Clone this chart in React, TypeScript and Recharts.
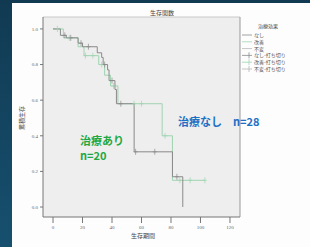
import React from "react";
import {
  ComposedChart,
  Line,
  Scatter,
  XAxis,
  YAxis,
  CartesianGrid,
  ReferenceLine,
} from "recharts";

// 治療なし (n=28)
const noTreatTimes = [0, 5, 9, 17, 20, 30, 33, 34, 37, 38, 42, 43, 55, 81, 88];
const noTreatSurv = [1.0, 0.964, 0.95, 0.92, 0.9, 0.866, 0.84, 0.8, 0.77, 0.71, 0.66, 0.58, 0.31, 0.17, 0.0];
const noTreatCensTimes = [8, 12, 19, 24, 35, 40, 46, 56, 69, 84];
const noTreatCensSurv = [0.964, 0.95, 0.92, 0.9, 0.8, 0.71, 0.58, 0.31, 0.31, 0.17];

// 治療あり (n=20)
const treatTimes = [0, 7, 17, 21, 31, 35, 39, 44, 74, 81, 103];
const treatSurv = [1.0, 0.95, 0.9, 0.85, 0.8, 0.74, 0.68, 0.58, 0.4, 0.15, 0.15];
const treatCensTimes = [3, 11, 22, 27, 33, 41, 55, 60, 76, 86, 93, 103];
const treatCensSurv = [1.0, 0.95, 0.85, 0.85, 0.8, 0.68, 0.58, 0.58, 0.4, 0.15, 0.15, 0.15];

const xTicks = [0, 20, 40, 60, 80, 100, 120];
const yTicks = [0, 0.2, 0.4, 0.6, 0.8, 1.0];

const legendTitle = "治療効果";
const legendItems = ["なし", "改善", "不変", "なし-打ち切り", "改善-打ち切り", "不変-打ち切り"];

const toPoints = (ts: number[], ss: number[]) => ts.map((t, i) => ({ t, s: ss[i] }));

const GRAY = "#8a8a8a";
const GREEN = "#9fd4b2";

const censorShape = (color: string) => (props: any) => {
  const { cx, cy } = props;
  return (
    <path
      d={`M${cx},${cy - 3}V${cy + 3}M${cx - 2},${cy}H${cx + 2}`}
      stroke={color}
      strokeWidth={0.7}
      fill="none"
    />
  );
};

const small: React.CSSProperties = {
  position: "absolute",
  fontFamily: "'Noto Sans CJK JP', sans-serif",
  color: "#555",
  whiteSpace: "nowrap",
  lineHeight: "6px",
};

const big: React.CSSProperties = {
  position: "absolute",
  fontFamily: "'Noto Sans CJK JP', sans-serif",
  fontWeight: 700,
  fontSize: 11,
  lineHeight: "12px",
  whiteSpace: "pre",
};

export default function App() {
  return (
    <div
      style={{
        position: "fixed",
        left: 0,
        top: 0,
        width: 310,
        height: 247,
        overflow: "hidden",
        background: "linear-gradient(180deg, #113a52 0%, #16506e 100%)",
      }}
    >
      <div
        style={{
          position: "absolute",
          left: 12,
          top: 3,
          width: 298,
          height: 244,
          background: "#fdfdfd",
        }}
      />
      <div style={{ position: "absolute", left: 0, top: 0 }}>
        <ComposedChart
          width={310}
          height={247}
          margin={{ top: 17, right: 70, bottom: 0, left: 31 }}
        >
          <CartesianGrid fill="#eeeeee" stroke="none" horizontal={false} vertical={false} />
          <XAxis
            type="number"
            dataKey="t"
            domain={[-6.8, 126.8]}
            ticks={xTicks}
            allowDataOverflow
            height={30}
            tickSize={6}
            tick={{ fontSize: 5, fill: "#666" }}
            stroke="#777"
          />
          <YAxis
            type="number"
            dataKey="s"
            domain={[-0.056, 1.067]}
            ticks={yTicks}
            allowDataOverflow
            width={12}
            tickSize={3}
            tickFormatter={(v: number) => v.toFixed(1)}
            tick={{ fontSize: 5, fill: "#666" }}
            stroke="#777"
          />
          <ReferenceLine y={1.067} stroke="#c8c8c8" />
          <ReferenceLine x={126.8} stroke="#999" />
          <Line
            data={toPoints(treatTimes, treatSurv)}
            dataKey="s"
            type="stepAfter"
            stroke={GREEN}
            strokeWidth={1}
            dot={false}
            isAnimationActive={false}
          />
          <Line
            data={toPoints(noTreatTimes, noTreatSurv)}
            dataKey="s"
            type="stepAfter"
            stroke={GRAY}
            strokeWidth={1}
            dot={false}
            isAnimationActive={false}
          />
          <Scatter
            data={toPoints(treatCensTimes, treatCensSurv)}
            dataKey="s"
            shape={censorShape(GREEN)}
            isAnimationActive={false}
          />
          <Scatter
            data={toPoints(noTreatCensTimes, noTreatCensSurv)}
            dataKey="s"
            shape={censorShape(GRAY)}
            isAnimationActive={false}
          />
        </ComposedChart>
      </div>

      <div style={{ ...small, left: 150, top: 10, fontSize: 6, color: "#444" }}>生存関数</div>
      <div style={{ ...small, left: 131, top: 233, fontSize: 6, color: "#444" }}>生存期間</div>
      <div
        style={{
          ...small,
          left: 10,
          top: 115,
          fontSize: 6,
          color: "#444",
          transform: "rotate(-90deg)",
        }}
      >
        累積生存
      </div>

      <div style={{ ...small, left: 258, top: 23, fontSize: 5, color: "#444" }}>{legendTitle}</div>
      <svg style={{ position: "absolute", left: 240, top: 30 }} width={16} height={45}>
        {legendItems.map((_, i) => (
          <path
            key={i}
            d={`M2,${5 + i * 6.8}H12${i >= 3 ? `M9,${2 + i * 6.8}V${8 + i * 6.8}` : ""}`}
            stroke={i % 3 === 0 ? GRAY : i % 3 === 1 ? GREEN : "#b5b5b5"}
            strokeWidth={0.8}
            fill="none"
          />
        ))}
      </svg>
      {legendItems.map((label, i) => (
        <div key={label} style={{ ...small, left: 254, top: 32 + i * 6.8, fontSize: 5 }}>
          {label}
        </div>
      ))}

      <div style={{ ...big, left: 178, top: 115, color: "#1f6fc4" }}>{"治療なし　n=28"}</div>
      <div style={{ ...big, left: 80, top: 134, color: "#1fa843" }}>治療あり</div>
      <div style={{ ...big, left: 80, top: 149, color: "#1fa843" }}>n=20</div>
    </div>
  );
}
